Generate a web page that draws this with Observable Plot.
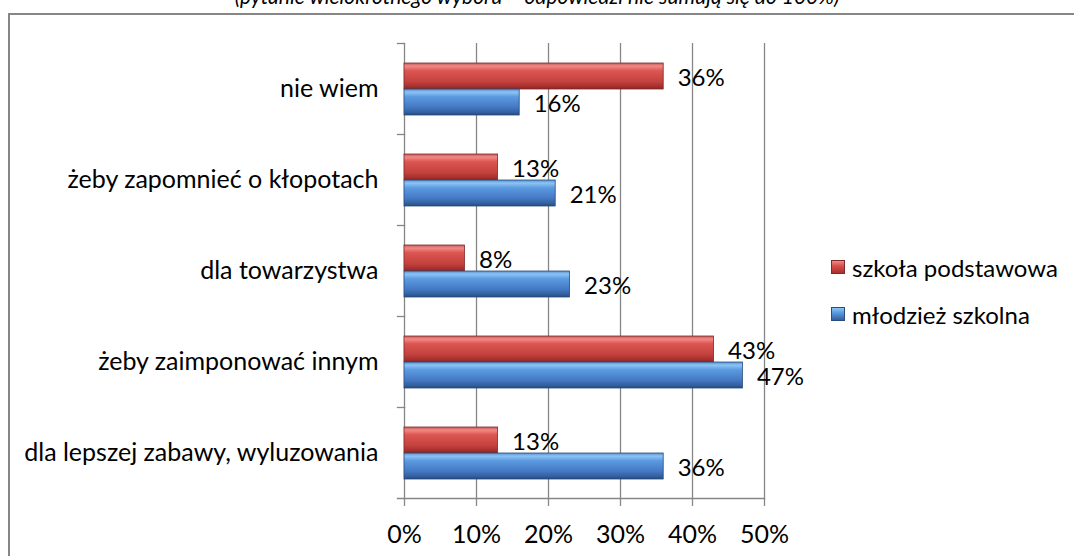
<!DOCTYPE html>
<html>
<head>
<meta charset="utf-8">
<script src="https://cdn.jsdelivr.net/npm/d3@7"></script>
<script src="https://cdn.jsdelivr.net/npm/@observablehq/plot@0.6"></script>
<style>
  html, body { margin: 0; padding: 0; background: #fff; overflow: hidden; }
  #wrap { position: relative; width: 1074px; height: 556px; overflow: hidden; font-family: Lato, "Open Sans", sans-serif; }
  #subtitle { position: absolute; left: 0; width: 1074px; top: -16px; text-align: center; font-style: italic; font-size: 21px; color: #000; white-space: nowrap; line-height: 24px; }
  #frame { position: absolute; left: 8px; top: 13px; width: 1080px; height: 600px; border: 2px solid #868686; box-sizing: border-box; }
  #chart { position: absolute; left: 0; top: 0; }
  #legend { position: absolute; left: 831px; top: 253px; font-size: 24px; color: #000; }
  .li { display: flex; align-items: center; height: 28px; margin-bottom: 19px; white-space: nowrap; }
  .sw { width: 14px; height: 14px; margin-right: 7px; box-sizing: border-box; }
</style>
</head>
<body>
<div id="wrap">
  <div id="subtitle"></div>
  <div id="frame"></div>
  <div id="chart"></div>
  <div id="legend"></div>
</div>
<script>
const subtitle = "(pytanie wielokrotnego wyboru – odpowiedzi nie sumują się do 100%)";
const categories = [
  "nie wiem",
  "żeby zapomnieć o kłopotach",
  "dla towarzystwa",
  "żeby zaimponować innym",
  "dla lepszej zabawy, wyluzowania"
];
const series = ["szkoła podstawowa", "młodzież szkolna"];
const valuesPodstawowa = [36, 13, 8.4, 43, 13];
const valuesMlodziez = [16, 21, 23, 47, 36];
const xTicks = [0, 10, 20, 30, 40, 50];
const gridTicks = [10, 20, 30, 40, 50];
const seriesFill = ["url(#gradRed)", "url(#gradBlue)"];

const rows = [];
categories.forEach((c, i) => {
  rows.push({category: c, series: series[0], value: valuesPodstawowa[i]});
  rows.push({category: c, series: series[1], value: valuesMlodziez[i]});
});

document.getElementById("subtitle").textContent = subtitle;

const axisColor = "#868686";
const font = "Lato, 'Open Sans', sans-serif";

const chart = Plot.plot({
  width: 1074,
  height: 556,
  marginLeft: 404,
  marginRight: 310,
  marginTop: 43,
  marginBottom: 58,
  style: {fontFamily: font, fontSize: "25px", color: "#000", background: "transparent"},
  x: {domain: [0, 50], ticks: xTicks, tickFormat: d => d + "%"},
  fy: {domain: categories, padding: 0, label: null},
  y: {domain: series, paddingInner: 0, paddingOuter: 0.69, axis: null},
  color: {domain: series, range: seriesFill},
  marks: [
    Plot.ruleX(gridTicks, {stroke: axisColor, strokeWidth: 1.3, strokeOpacity: 1}),
    Plot.frame({anchor: "left", stroke: axisColor, strokeWidth: 1.3, strokeOpacity: 1}),
    Plot.frame({anchor: "top", stroke: axisColor, strokeWidth: 1.3, strokeOpacity: 1, insetLeft: -7, insetRight: 360}),
    Plot.frame({anchor: "bottom", facet: "super", stroke: axisColor, strokeWidth: 1.3, strokeOpacity: 1, insetLeft: -7}),
    Plot.axisX({ticks: xTicks, tickFormat: d => d + "%", tickSize: 8, tickPadding: 19, stroke: axisColor, strokeWidth: 1.3, strokeOpacity: 1, fontSize: 25, label: null, fill: "#000"}),
    Plot.axisFy({anchor: "left", tickSize: 0, tickPadding: 26, fontSize: 25, label: null, fill: "#000"}),
    Plot.barX(rows, {x: "value", y: "series", fy: "category", fill: "series", stroke: d => d.series === series[0] ? "#7d2b29" : "#2a4d7a", strokeWidth: 0.8}),
    Plot.text(rows, {x: "value", y: "series", fy: "category", text: d => Math.round(d.value) + "%", textAnchor: "start", dx: 14, dy: 2, fontSize: 24, fill: "#000"})
  ]
});

const defs = `
<linearGradient id="gradRed" x1="0" y1="0" x2="0" y2="1">
  <stop offset="0" stop-color="#c85a58"/>
  <stop offset="0.12" stop-color="#f08a86"/>
  <stop offset="0.3" stop-color="#dc5551"/>
  <stop offset="0.7" stop-color="#c4433f"/>
  <stop offset="0.9" stop-color="#a8302e"/>
  <stop offset="1" stop-color="#8a2523"/>
</linearGradient>
<linearGradient id="gradBlue" x1="0" y1="0" x2="0" y2="1">
  <stop offset="0" stop-color="#5a8fd0"/>
  <stop offset="0.12" stop-color="#8cc4f4"/>
  <stop offset="0.3" stop-color="#5b9ae0"/>
  <stop offset="0.7" stop-color="#4479c4"/>
  <stop offset="0.9" stop-color="#335f9e"/>
  <stop offset="1" stop-color="#244a80"/>
</linearGradient>`;
const defsEl = document.createElementNS("http://www.w3.org/2000/svg", "defs");
defsEl.innerHTML = defs;
chart.insertBefore(defsEl, chart.firstChild);
document.getElementById("chart").appendChild(chart);

const legend = document.getElementById("legend");
const swatchStyle = [
  "background: linear-gradient(#f08a86, #d9504c 40%, #a8302e); border: 1px solid #7d2b29;",
  "background: linear-gradient(#8cc4f4, #5b9ae0 40%, #335f9e); border: 1px solid #2a4d7a;"
];
series.forEach((s, i) => {
  const row = document.createElement("div");
  row.className = "li";
  row.innerHTML = `<div class="sw" style="${swatchStyle[i]}"></div><span></span>`;
  row.querySelector("span").textContent = s;
  legend.appendChild(row);
});
</script>
</body>
</html>
